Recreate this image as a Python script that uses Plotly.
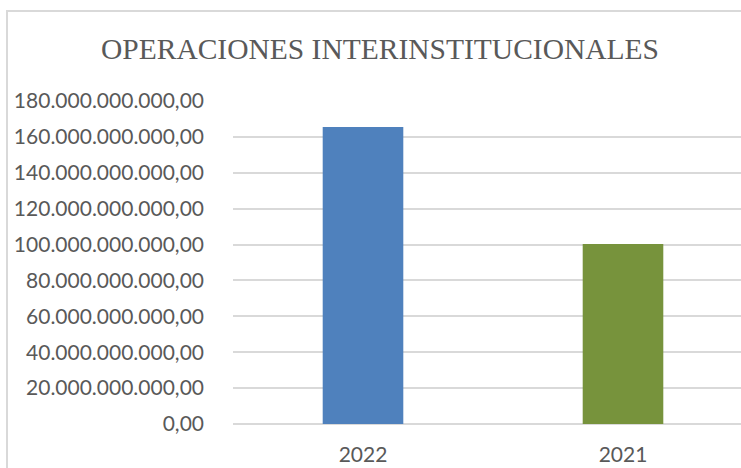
import plotly.graph_objects as go

categories = ["2022", "2021"]
values = [165.5e9, 100.3e9]
bar_colors = ["#4F81BD", "#77933C"]
y_ticks = [i * 20e9 for i in range(10)]
title_text = "OPERACIONES INTERINSTITUCIONALES"

W, H = 741, 468
left, top, bottom = 233, 101, 44
band = 260

fig = go.Figure(go.Bar(
    x=[0, 1], y=values, marker_color=bar_colors, width=0.31,
    marker_line_width=0, hoverinfo="skip",
))

fig.update_layout(
    width=W, height=H,
    margin=dict(l=left, r=0, t=top, b=bottom, pad=0),
    paper_bgcolor="white", plot_bgcolor="white",
    separators=",.",
    showlegend=False,
    title=dict(text=title_text, x=380 / W, xanchor="center",
               y=1 - 49 / H, yanchor="middle",
               font=dict(family="Liberation Serif", size=29.5, color="#595959")),
    xaxis=dict(range=[-0.5, -0.5 + (W - left) / band], tickmode="array",
               tickvals=[0, 1], ticktext=categories, showgrid=False,
               zeroline=False, showline=False, ticks="",
               ticklabelstandoff=16,
               tickfont=dict(family="Lato", size=21, color="#595959")),
    yaxis=dict(range=[0, 180e9], tickmode="array", tickvals=y_ticks,
               tickformat=",.2f", showgrid=True, gridcolor="#D9D9D9",
               gridwidth=1.5, zeroline=True, zerolinecolor="#D9D9D9",
               zerolinewidth=1.5, showline=False, ticks="",
               ticklabelstandoff=28,
               tickfont=dict(family="Lato", size=21, color="#595959")),
    shapes=[dict(type="rect", xref="paper", yref="paper",
                 x0=-(left - 7) / (W - left), x1=1.2,
                 y0=-0.3, y1=1 + (top - 11) / (H - top - bottom),
                 line=dict(color="#D9D9D9", width=2), layer="below")],
)

fig.write_html(
    "out.html",
    config={"displayModeBar": False},
    post_script="document.body.style.margin='0';document.body.style.overflow='hidden';",
)
